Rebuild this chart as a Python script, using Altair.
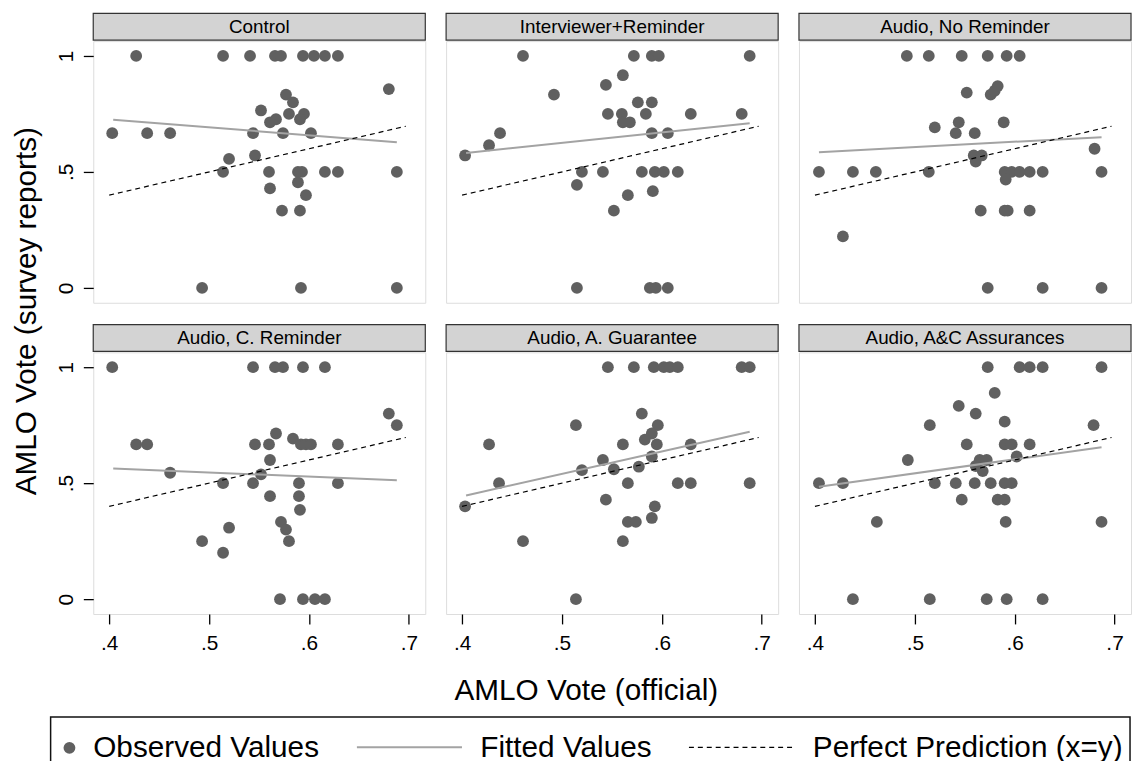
import altair as alt
import pandas as pd

# ---------------- data ----------------
PANELS = ["Control", "Interviewer+Reminder", "Audio, No Reminder",
          "Audio, C. Reminder", "Audio, A. Guarantee", "Audio, A&C Assurances"]

x_control = [0.427, 0.514, 0.541, 0.566, 0.572, 0.594, 0.605, 0.616, 0.629,
             0.680, 0.577, 0.584, 0.552, 0.580, 0.595, 0.567, 0.561, 0.591,
             0.403, 0.438, 0.461, 0.544, 0.574, 0.602,
             0.520, 0.546,
             0.514, 0.560, 0.589, 0.593, 0.616, 0.629, 0.688,
             0.561, 0.589, 0.597, 0.573, 0.591,
             0.493, 0.592, 0.688]
y_control = [1, 1, 1, 1, 1, 1, 1, 1, 1,
             0.857, 0.833, 0.8, 0.765, 0.75, 0.75, 0.727, 0.714, 0.727,
             0.667, 0.667, 0.667, 0.667, 0.667, 0.667,
             0.556, 0.571,
             0.5, 0.5, 0.5, 0.5, 0.5, 0.5, 0.5,
             0.429, 0.455, 0.4, 0.333, 0.333,
             0, 0, 0]

x_interv = [0.461, 0.572, 0.590, 0.597, 0.688,
            0.561, 0.544, 0.492, 0.576, 0.590,
            0.546, 0.560, 0.584, 0.629, 0.680,
            0.561, 0.568,
            0.438, 0.427, 0.403, 0.590, 0.606,
            0.520, 0.541, 0.580, 0.593, 0.602, 0.616,
            0.515, 0.566, 0.591, 0.552,
            0.515, 0.588, 0.594, 0.606]
y_interv = [1, 1, 1, 1, 1,
            0.917, 0.875, 0.833, 0.8, 0.8,
            0.75, 0.75, 0.75, 0.75, 0.75,
            0.714, 0.714,
            0.667, 0.615, 0.571, 0.667, 0.667,
            0.5, 0.5, 0.5, 0.5, 0.5, 0.5,
            0.444, 0.4, 0.417, 0.333,
            0, 0, 0, 0]

x_audio_nr = [0.492, 0.514, 0.547, 0.573, 0.592, 0.605,
              0.552, 0.576, 0.580, 0.583,
              0.520, 0.544, 0.541, 0.560, 0.589,
              0.680, 0.559, 0.567, 0.561,
              0.404, 0.438, 0.461, 0.514, 0.590, 0.597, 0.605, 0.615, 0.628, 0.687,
              0.591,
              0.566, 0.590, 0.593, 0.615,
              0.428,
              0.573, 0.628, 0.687]
y_audio_nr = [1, 1, 1, 1, 1, 1,
              0.842, 0.833, 0.85, 0.87,
              0.692, 0.714, 0.667, 0.667, 0.714,
              0.6, 0.571, 0.571, 0.545,
              0.5, 0.5, 0.5, 0.5, 0.5, 0.5, 0.5, 0.5, 0.5, 0.5,
              0.467,
              0.333, 0.333, 0.333, 0.333,
              0.222,
              0, 0, 0]

x_audio_cr = [0.403, 0.544, 0.566, 0.574, 0.594, 0.616,
              0.680, 0.688,
              0.567, 0.584,
              0.427, 0.438, 0.546, 0.560, 0.592, 0.597, 0.602, 0.629,
              0.561, 0.461, 0.552,
              0.514, 0.544, 0.590, 0.629,
              0.561, 0.590, 0.591,
              0.572, 0.577, 0.580,
              0.520, 0.493, 0.514,
              0.571, 0.594, 0.606, 0.616]
y_audio_cr = [1, 1, 1, 1, 1, 1,
              0.8, 0.75,
              0.714, 0.692,
              0.667, 0.667, 0.667, 0.667, 0.667, 0.667, 0.667, 0.667,
              0.6, 0.545, 0.538,
              0.5, 0.5, 0.5, 0.5,
              0.444, 0.444, 0.385,
              0.333, 0.3, 0.25,
              0.308, 0.25, 0.2,
              0, 0, 0, 0]

x_audio_ag = [0.546, 0.572, 0.592, 0.602, 0.608, 0.616, 0.680, 0.688,
              0.580, 0.514, 0.596, 0.590, 0.583,
              0.427, 0.561, 0.595, 0.629,
              0.590, 0.541, 0.577, 0.552, 0.520,
              0.437, 0.566, 0.616, 0.629, 0.688,
              0.403, 0.544, 0.593, 0.590, 0.566, 0.574,
              0.461, 0.561,
              0.514]
y_audio_ag = [1, 1, 1, 1, 1, 1, 1, 1,
              0.8, 0.75, 0.75, 0.714, 0.688,
              0.667, 0.667, 0.667, 0.667,
              0.615, 0.6, 0.571, 0.56, 0.556,
              0.5, 0.5, 0.5, 0.5, 0.5,
              0.4, 0.429, 0.4, 0.35, 0.333, 0.333,
              0.25, 0.25,
              0]

x_audio_ac = [0.573, 0.605, 0.615, 0.628, 0.687,
              0.580, 0.544, 0.561, 0.515, 0.590, 0.679,
              0.552, 0.590, 0.597, 0.615,
              0.602, 0.493, 0.565, 0.572, 0.561, 0.568,
              0.404, 0.428, 0.520, 0.541, 0.560, 0.576, 0.590, 0.597,
              0.547, 0.583, 0.590,
              0.462, 0.591, 0.687,
              0.438, 0.515, 0.572, 0.592, 0.628]
y_audio_ac = [1, 1, 1, 1, 1,
              0.889, 0.833, 0.8, 0.75, 0.765, 0.75,
              0.667, 0.667, 0.667, 0.667,
              0.615, 0.6, 0.6, 0.6, 0.574, 0.552,
              0.5, 0.5, 0.5, 0.5, 0.5, 0.5, 0.5, 0.5,
              0.429, 0.429, 0.429,
              0.333, 0.333, 0.333,
              0, 0, 0, 0, 0]

X_OBS = [x_control, x_interv, x_audio_nr, x_audio_cr, x_audio_ag, x_audio_ac]
Y_OBS = [y_control, y_interv, y_audio_nr, y_audio_cr, y_audio_ag, y_audio_ac]

# fitted-line end points (x and y), read per panel
FIT_X = [[0.404, 0.688], [0.404, 0.688], [0.404, 0.687],
         [0.404, 0.688], [0.404, 0.688], [0.404, 0.687]]
FIT_Y = [[0.725, 0.628], [0.582, 0.710], [0.585, 0.650],
         [0.563, 0.513], [0.447, 0.722], [0.485, 0.655]]

PERFECT_X = [0.400, 0.697]          # x = y line

X_TICKS = [0.4, 0.5, 0.6, 0.7]
Y_TICKS = [0, 0.5, 1]
LEGEND_LABELS = ["Observed Values", "Fitted Values", "Perfect Prediction (x=y)"]
X_TITLE = "AMLO Vote (official)"
Y_TITLE = "AMLO Vote (survey reports)"

# ---------------- styling ----------------
FONT = "Liberation Sans"
W, H, SH = 335, 264, 27
DOT = "#606060"
FITC = "#a3a3a3"
DOT_SIZE = 142

xscale = alt.Scale(domain=[0.384, 0.7165], nice=False, zero=False)
yscale = alt.Scale(domain=[-0.064, 1.064], nice=False, zero=False)


def x_axis(i):
    if i < 3:
        return None
    kw = dict(values=X_TICKS, labelExpr="substring(format(datum.value, '.1f'), 1)",
              domain=False, grid=False, tickSize=10, tickWidth=1.3, tickColor="black",
              labelFont=FONT, labelFontSize=21, labelColor="black", labelPadding=9)
    if i == 4:
        kw.update(title=X_TITLE, titleFont=FONT, titleFontSize=30, titleFontWeight="normal",
                  titleColor="black", titleX=141, titleY=86, titleAlign="center",
                  titleBaseline="alphabetic", titleAnchor="start")
    else:
        kw.update(title=None)
    return alt.Axis(**kw)


def y_axis(i):
    if i % 3 != 0:
        return None
    kw = dict(values=Y_TICKS,
              labelExpr="datum.value == 0.5 ? '.5' : format(datum.value, 'd')",
              domain=False, grid=False, tickSize=10, tickWidth=1.3, tickColor="black",
              labelFont=FONT, labelFontSize=21, labelColor="black", labelPadding=11,
              labelAngle=270, labelAlign="center", labelBaseline="alphabetic")
    if i == 0:
        kw.update(title=Y_TITLE, titleFont=FONT, titleFontSize=30, titleFontWeight="normal",
                  titleColor="black", titleAngle=270, titleX=-58, titleY=272,
                  titleAlign="center", titleBaseline="alphabetic", titleAnchor="start")
    else:
        kw.update(title=None)
    return alt.Axis(**kw)


def panel(i):
    xa, ya = x_axis(i), y_axis(i)
    enc = dict(x=alt.X("x:Q", scale=xscale, axis=xa),
               y=alt.Y("y:Q", scale=yscale, axis=ya))
    obs = pd.DataFrame({"x": X_OBS[i], "y": Y_OBS[i]})
    fit = pd.DataFrame({"x": FIT_X[i], "y": FIT_Y[i]})
    perf = pd.DataFrame({"x": PERFECT_X, "y": PERFECT_X})
    sdf = pd.DataFrame({"t": [PANELS[i]]})

    rect = alt.Chart(sdf).mark_rect(fill="#d3d3d3", stroke="#333333", strokeWidth=1.2).encode(
        x=alt.value(0), x2=alt.value(W), y=alt.value(-SH - 1), y2=alt.value(-1))
    txt = alt.Chart(sdf).mark_text(font=FONT, fontSize=19, color="black",
                                   align="center", baseline="alphabetic").encode(
        text="t:N", x=alt.value(W / 2), y=alt.value(-SH - 1 + 20))
    pts = alt.Chart(obs).mark_circle(size=DOT_SIZE, color=DOT, opacity=1).encode(**enc)
    fl = alt.Chart(fit).mark_line(color=FITC, strokeWidth=2).encode(**enc)
    pl = alt.Chart(perf).mark_line(color="black", strokeWidth=1.2,
                                   strokeDash=[5, 4]).encode(**enc)
    return alt.layer(pts, fl, pl, rect, txt).properties(width=W, height=H)


# ---------------- legend ----------------
ldf = pd.DataFrame({"t": LEGEND_LABELS})
LY = 84.5
box = alt.Chart(ldf.head(1)).mark_rect(fill="white", fillOpacity=0, stroke="#111111",
                                      strokeWidth=1.5).encode(
    x=alt.value(-43), x2=alt.value(1046), y=alt.value(54), y2=alt.value(104))
ldot = alt.Chart(ldf.head(1)).mark_circle(size=DOT_SIZE, color=DOT, opacity=1).encode(
    x=alt.value(-24), y=alt.value(LY + 0.5))
lfit = alt.Chart(ldf.head(1)).mark_rule(color=FITC, strokeWidth=2).encode(
    x=alt.value(266), x2=alt.value(372), y=alt.value(LY))
lperf = alt.Chart(ldf.head(1)).mark_rule(color="black", strokeWidth=1.2, strokeDash=[5, 4]).encode(
    x=alt.value(601), x2=alt.value(708), y=alt.value(LY))
text_x = [0, 390.5, 726]
ltexts = [alt.Chart(ldf.iloc[[k]]).mark_text(font=FONT, fontSize=30, color="black",
                                            align="left", baseline="alphabetic").encode(
    text="t:N", x=alt.value(text_x[k]), y=alt.value(94.5)) for k in range(3)]
legend = alt.layer(box, ldot, lfit, lperf, *ltexts).properties(
    width=W, height=60, view=alt.ViewBackground(stroke="transparent"))

chart = alt.concat(*[panel(i) for i in range(6)], legend, columns=3,
                   spacing={"row": 50, "column": 21}, bounds="flush").properties(
    padding={"left": 3, "top": 0, "right": 0, "bottom": 0}
).configure_view(stroke="#111111", strokeWidth=1.5).configure(font=FONT)

chart.save("out.html", embed_options={"renderer": "svg", "actions": False})
